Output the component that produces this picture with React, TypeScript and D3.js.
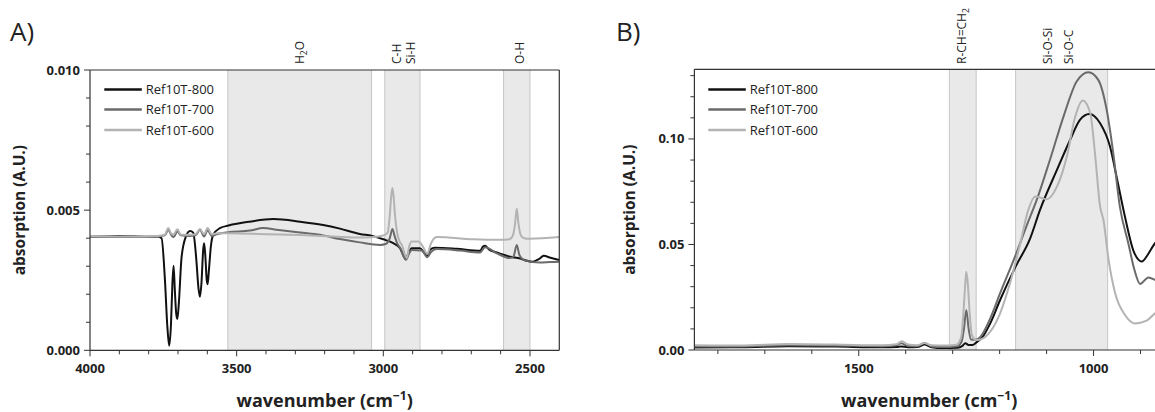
import React from 'react';
import * as d3 from 'd3';

// ---------- DATA ----------
const SERIES_NAMES = ['Ref10T-800', 'Ref10T-700', 'Ref10T-600'];

// Panel A: [wavenumber, absorption]
const A_800: [number, number][] = [
  [4000, 0.00406], [3900, 0.00408], [3800, 0.00405], [3770, 0.00406], [3756, 0.0040],
  [3745, 0.0026], [3736, 0.0008], [3730, 0.00016], [3724, 0.0009], [3719, 0.0024],
  [3715, 0.00302], [3711, 0.0022], [3706, 0.0013], [3702, 0.00112], [3697, 0.0017],
  [3688, 0.0033], [3673, 0.00406], [3659, 0.00426], [3648, 0.0042], [3638, 0.0033],
  [3630, 0.0022], [3625, 0.00191], [3620, 0.0024], [3614, 0.0036], [3611, 0.00382],
  [3607, 0.0034], [3602, 0.0025], [3599, 0.00236], [3595, 0.0028], [3588, 0.0037],
  [3580, 0.00412], [3557, 0.00436], [3528, 0.00445], [3455, 0.00459], [3375, 0.00468],
  [3284, 0.00459], [3205, 0.00447], [3148, 0.00434], [3080, 0.00415], [3038, 0.00408],
  [3000, 0.00396], [2966, 0.00382], [2943, 0.00364], [2930, 0.00335], [2923, 0.00325],
  [2915, 0.00345], [2903, 0.00364], [2875, 0.00364], [2862, 0.0035], [2850, 0.00337],
  [2840, 0.0036], [2824, 0.00366], [2750, 0.00362], [2670, 0.00355], [2660, 0.0037],
  [2653, 0.00373], [2640, 0.0036], [2613, 0.00349], [2568, 0.00334], [2541, 0.00329],
  [2491, 0.00316], [2470, 0.00325], [2453, 0.00337], [2430, 0.0033], [2400, 0.00322],
];
const A_700: [number, number][] = [
  [4000, 0.00406], [3850, 0.00404], [3770, 0.00406], [3745, 0.0041], [3733, 0.0043],
  [3722, 0.0041], [3715, 0.00404], [3702, 0.00424], [3690, 0.0041], [3660, 0.00408],
  [3640, 0.0041], [3625, 0.0043], [3611, 0.00406], [3599, 0.00428], [3585, 0.00408],
  [3565, 0.00415], [3528, 0.00421], [3455, 0.00427], [3409, 0.00436], [3364, 0.0043],
  [3284, 0.0042], [3216, 0.00412], [3148, 0.00397], [3080, 0.00385], [3011, 0.00376],
  [2990, 0.0038], [2978, 0.0040], [2969, 0.00433], [2962, 0.0041], [2955, 0.00388],
  [2940, 0.0036], [2923, 0.00323], [2912, 0.00345], [2903, 0.00358], [2869, 0.00356],
  [2850, 0.00332], [2838, 0.0035], [2818, 0.00361], [2739, 0.00356], [2670, 0.00349],
  [2653, 0.00368], [2613, 0.00346], [2568, 0.00329], [2556, 0.00335], [2545, 0.00376],
  [2536, 0.0034], [2516, 0.0032], [2466, 0.00313], [2430, 0.00315], [2400, 0.00316],
];
const A_600: [number, number][] = [
  [4000, 0.00408], [3850, 0.00406], [3770, 0.00408], [3745, 0.00412], [3733, 0.00436],
  [3722, 0.00415], [3715, 0.00414], [3702, 0.00432], [3690, 0.00412], [3660, 0.00412],
  [3640, 0.00414], [3625, 0.00433], [3611, 0.00414], [3599, 0.00436], [3585, 0.00414],
  [3565, 0.00418], [3528, 0.00418], [3398, 0.00414], [3284, 0.00411], [3170, 0.00406],
  [3080, 0.00402], [3034, 0.00404], [2994, 0.00412], [2985, 0.0042], [2978, 0.0048],
  [2973, 0.0055], [2969, 0.00579], [2965, 0.0055], [2960, 0.0048], [2953, 0.0042],
  [2945, 0.0039], [2937, 0.00376], [2920, 0.00329], [2912, 0.0037], [2903, 0.00388],
  [2881, 0.00388], [2865, 0.0037], [2850, 0.00344], [2838, 0.0038], [2818, 0.00404],
  [2693, 0.00396], [2600, 0.00394], [2570, 0.00396], [2558, 0.0041], [2551, 0.0045],
  [2545, 0.00505], [2539, 0.0045], [2531, 0.0041], [2520, 0.0040], [2500, 0.00398],
  [2400, 0.00404],
];

// Panel B
const B_800: [number, number][] = [
  [1850, 0.0012], [1750, 0.0013], [1650, 0.0018], [1550, 0.0016], [1450, 0.0013],
  [1420, 0.0014], [1410, 0.0017], [1395, 0.0013], [1375, 0.0014], [1360, 0.0026],
  [1345, 0.0013], [1320, 0.0009], [1290, 0.0011], [1280, 0.0018], [1273, 0.0032],
  [1266, 0.0024], [1258, 0.0024], [1250, 0.0035], [1235, 0.0066], [1220, 0.0126],
  [1199, 0.0237], [1166, 0.0395], [1135, 0.0529], [1114, 0.0664], [1078, 0.0853],
  [1050, 0.0995], [1029, 0.109], [1009, 0.1118], [986, 0.1074], [965, 0.0964],
  [950, 0.081], [933, 0.0630], [915, 0.0470], [897, 0.0419], [885, 0.045],
  [869, 0.0506], [850, 0.053],
];
const B_700: [number, number][] = [
  [1850, 0.0017], [1750, 0.0017], [1650, 0.0023], [1550, 0.0021], [1450, 0.0018],
  [1420, 0.0022], [1410, 0.0032], [1395, 0.0019], [1375, 0.0018], [1360, 0.0033],
  [1345, 0.0017], [1320, 0.0014], [1290, 0.0018], [1281, 0.004], [1276, 0.010],
  [1271, 0.019], [1266, 0.010], [1261, 0.005], [1252, 0.0048], [1241, 0.0062],
  [1220, 0.015], [1199, 0.0269], [1166, 0.045], [1142, 0.0592], [1121, 0.0711],
  [1093, 0.09], [1064, 0.1106], [1036, 0.1272], [1011, 0.1316], [990, 0.128],
  [972, 0.1137], [958, 0.0932], [944, 0.0679], [926, 0.0506], [913, 0.038],
  [901, 0.0313], [883, 0.0344], [869, 0.0332], [850, 0.031],
];
const B_600: [number, number][] = [
  [1850, 0.0022], [1750, 0.0021], [1650, 0.0028], [1550, 0.0026], [1450, 0.0022],
  [1420, 0.0027], [1408, 0.0041], [1395, 0.0026], [1375, 0.0023], [1360, 0.0033],
  [1345, 0.0022], [1320, 0.0021], [1292, 0.0025], [1282, 0.006], [1277, 0.018],
  [1273, 0.032], [1271, 0.0371], [1268, 0.032], [1264, 0.018], [1259, 0.007],
  [1250, 0.0047], [1241, 0.005], [1220, 0.0087], [1199, 0.0174], [1178, 0.0316],
  [1156, 0.0506], [1139, 0.0664], [1124, 0.0727], [1110, 0.0720], [1100, 0.0714],
  [1078, 0.0774], [1057, 0.0916], [1039, 0.1106], [1023, 0.1182], [1007, 0.1122],
  [997, 0.0932], [986, 0.0679], [979, 0.0616], [968, 0.0427], [954, 0.0269],
  [933, 0.0166], [912, 0.0126], [887, 0.0139], [869, 0.0174], [850, 0.020],
];

const A_X_TICKS = [4000, 3500, 3000, 2500];
const A_Y_TICKS = [0, 0.005, 0.01];
const B_X_TICKS = [1500, 1000];
const B_Y_TICKS = [0, 0.05, 0.1];

const A_BANDS: [number, number][] = [[3530, 3040], [2995, 2875], [2590, 2500]];
const B_BANDS: [number, number][] = [[1307, 1250], [1166, 970]];

// band labels: [wavenumber position, main text, subscript, trailing text]
const A_BAND_LABELS: [number, string, string, string][] = [
  [3285, 'H', '2', 'O'], [2955, 'C-H', '', ''], [2907, 'Si-H', '', ''], [2537, 'O-H', '', ''],
];
const B_BAND_LABELS: [number, string, string, string][] = [
  [1281, 'R-CH=CH', '2', ''], [1098, 'Si-O-Si', '', ''], [1053, 'Si-O-C', '', ''],
];

// ---------- STYLE ----------
const COLORS = ['#111111', '#6a6a6a', '#b3b3b3'];
const FONT = '"Open Sans", sans-serif';
const AXIS = '#333';

type PanelProps = {
  id: string;
  letter: string;
  letterX: number;
  left: number; right: number; top: number; bottom: number;
  xDomain: [number, number]; yDomain: [number, number];
  xTicks: number[]; yTicks: number[];
  xMinor: number[]; yMinor: number[];
  yFmt: (v: number) => string;
  bands: [number, number][];
  bandLabels: [number, string, string, string][];
  series: [number, number][][];
  yTitleX: number;
  legendX: number;
  drawRight: boolean;
};

function Panel(p: PanelProps) {
  const x = d3.scaleLinear().domain(p.xDomain).range([p.left, p.right]);
  const y = d3.scaleLinear().domain(p.yDomain).range([p.bottom, p.top]);
  const line = d3.line<[number, number]>().x(d => x(d[0])).y(d => y(d[1])).curve(d3.curveMonotoneX);
  const clipId = 'clip-' + p.id;
  const legendRows = [89.5, 109.5, 130];
  return (
    <g>
      <defs>
        <clipPath id={clipId}>
          <rect x={p.left} y={p.top} width={p.right - p.left} height={p.bottom - p.top} />
        </clipPath>
      </defs>
      {p.bands.map((b, i) => (
        <g key={'b' + i}>
          <rect x={x(b[0])} y={p.top} width={x(b[1]) - x(b[0])} height={p.bottom - p.top} fill="#e9e9e9" />
          <line x1={x(b[0])} x2={x(b[0])} y1={p.top} y2={p.bottom} stroke="#c6c6c6" strokeWidth={1} />
          <line x1={x(b[1])} x2={x(b[1])} y1={p.top} y2={p.bottom} stroke="#c6c6c6" strokeWidth={1} />
        </g>
      ))}
      {p.bandLabels.map((l, i) => (
        <text key={'l' + i} transform={`translate(${x(l[0]) + 4.5},64) rotate(-90)`} fontFamily={FONT} fontSize={12} fill="#222">
          {l[1]}
          {l[2] ? <tspan fontSize={8.5} dy={3}>{l[2]}</tspan> : null}
          {l[3] ? <tspan dy={-3}>{l[3]}</tspan> : null}
        </text>
      ))}
      <g clipPath={`url(#${clipId})`}>
        {p.series.map((s, i) => (
          <path key={'s' + i} d={line(s) || ''} fill="none" stroke={COLORS[i]} strokeWidth={2} strokeLinejoin="round" />
        ))}
      </g>
      {/* frame */}
      <line x1={p.left} x2={p.left} y1={p.top} y2={p.bottom} stroke={AXIS} strokeWidth={1.2} />
      <line x1={p.left} x2={p.right} y1={p.bottom} y2={p.bottom} stroke={AXIS} strokeWidth={1.2} />
      <line x1={p.left} x2={p.right} y1={p.top} y2={p.top} stroke={AXIS} strokeWidth={1.2} />
      {p.drawRight ? <line x1={p.right} x2={p.right} y1={p.top} y2={p.bottom} stroke={AXIS} strokeWidth={1.2} /> : null}
      {/* ticks */}
      {p.xMinor.map((t, i) => (
        <line key={'xm' + i} x1={x(t)} x2={x(t)} y1={p.bottom} y2={p.bottom + 4} stroke={AXIS} />
      ))}
      {p.xTicks.map((t, i) => (
        <g key={'xt' + i}>
          <line x1={x(t)} x2={x(t)} y1={p.bottom} y2={p.bottom + 6} stroke={AXIS} />
          <text x={x(t)} y={372.5} textAnchor="middle" fontFamily={FONT} fontSize={13} fontWeight="bold" fill="#222">{t}</text>
        </g>
      ))}
      {p.yMinor.map((t, i) => (
        <line key={'ym' + i} x1={p.left - 4} x2={p.left} y1={y(t)} y2={y(t)} stroke={AXIS} />
      ))}
      {p.yTicks.map((t, i) => (
        <g key={'yt' + i}>
          <line x1={p.left - 6} x2={p.left} y1={y(t)} y2={y(t)} stroke={AXIS} />
          <text x={p.left - 10} y={y(t) + 4.5} textAnchor="end" fontFamily={FONT} fontSize={13} fontWeight="bold" fill="#222">{p.yFmt(t)}</text>
        </g>
      ))}
      {/* titles */}
      <text transform={`translate(${p.yTitleX},${(p.top + p.bottom) / 2}) rotate(-90)`} textAnchor="middle" fontFamily={FONT} fontSize={15.5} fontWeight="bold" fill="#222">absorption (A.U.)</text>
      <text x={(p.left + p.right) / 2} y={407} textAnchor="middle" fontFamily={FONT} fontSize={18} fontWeight="bold" fill="#222">
        wavenumber (cm<tspan fontSize={12} dy={-7}>−1</tspan><tspan dy={7}>)</tspan>
      </text>
      <text x={p.letterX} y={41} fontFamily={FONT} fontSize={26} fill="#222">{p.letter}</text>
      {/* legend */}
      {SERIES_NAMES.map((n, i) => (
        <g key={'lg' + i}>
          <line x1={p.legendX} x2={p.legendX + 37.5} y1={legendRows[i]} y2={legendRows[i]} stroke={COLORS[i]} strokeWidth={2.5} />
          <text x={p.legendX + 41.5} y={legendRows[i] + 4.5} fontFamily={FONT} fontSize={13} fill="#222">{n}</text>
        </g>
      ))}
    </g>
  );
}

export default function App() {
  const aXMinor = d3.range(3900, 2400, -100).filter(v => v % 500 !== 0);
  const aYMinor = d3.range(1, 10).map(v => v * 0.001).filter(v => Math.abs(v - 0.005) > 1e-9);
  const bXMinor = d3.range(1800, 850, -100).filter(v => v % 500 !== 0);
  const bYMinor = d3.range(1, 14).map(v => v * 0.01).filter(v => Math.abs(v - 0.05) > 1e-9 && Math.abs(v - 0.1) > 1e-9);
  return (
    <div style={{ position: 'absolute', left: 0, top: 0, width: 1155, height: 412, overflow: 'hidden', background: '#fff' }}>
      <svg width={1155} height={412} style={{ display: 'block' }}>
        <rect x={0} y={0} width={1155} height={412} fill="#fff" />
        <Panel
          id="a" letter="A)" letterX={10}
          left={90} right={559.3} top={70} bottom={350.3}
          xDomain={[4000, 2400]} yDomain={[0, 0.01]}
          xTicks={A_X_TICKS} yTicks={A_Y_TICKS} xMinor={aXMinor} yMinor={aYMinor}
          yFmt={v => v.toFixed(3)}
          bands={A_BANDS} bandLabels={A_BAND_LABELS}
          series={[A_800, A_700, A_600]}
          yTitleX={25} legendX={104.3} drawRight={true}
        />
        <Panel
          id="b" letter="B)" letterX={616}
          left={694.4} right={1164} top={69.3} bottom={350}
          xDomain={[1850, 850]} yDomain={[0, 0.133]}
          xTicks={B_X_TICKS} yTicks={B_Y_TICKS} xMinor={bXMinor} yMinor={bYMinor}
          yFmt={v => v.toFixed(2)}
          bands={B_BANDS} bandLabels={B_BAND_LABELS}
          series={[B_800, B_700, B_600]}
          yTitleX={635} legendX={708.3} drawRight={false}
        />
      </svg>
    </div>
  );
}
